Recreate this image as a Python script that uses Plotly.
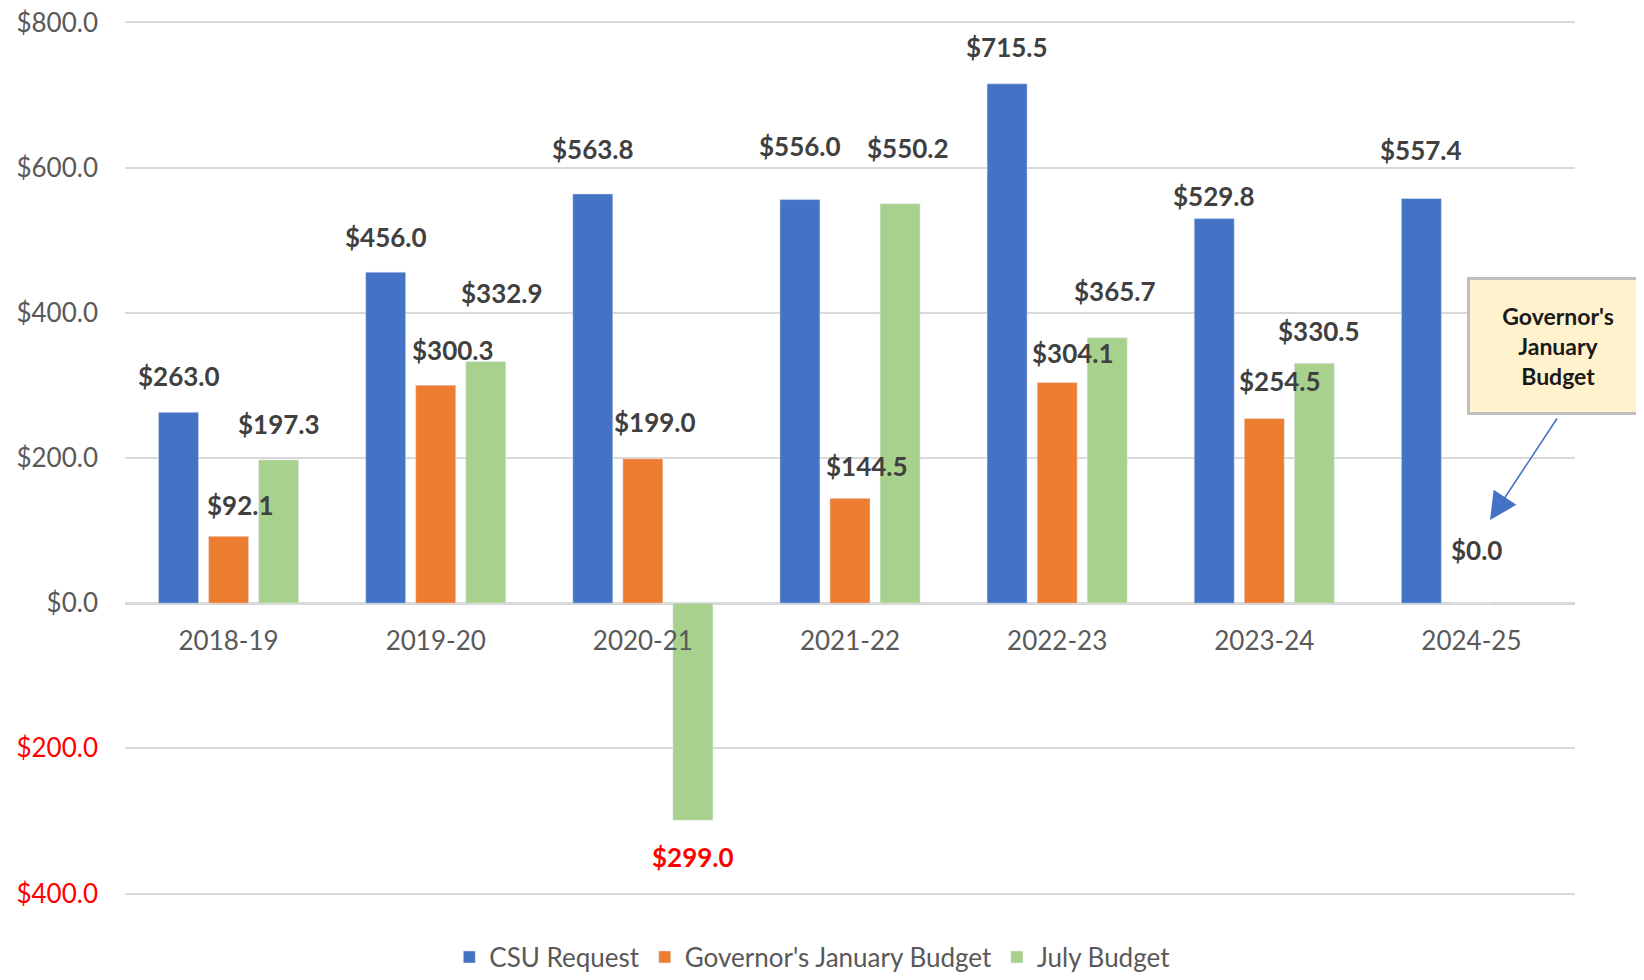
import plotly.graph_objects as go

# CSU budget request vs. Governor's January budget vs. July (enacted) budget, $ millions
YEARS = ["2018-19", "2019-20", "2020-21", "2021-22", "2022-23", "2023-24", "2024-25"]
CSU_REQUEST = [263.0, 456.0, 563.8, 556.0, 715.5, 529.8, 557.4]
GOV_JANUARY = [92.1, 300.3, 199.0, 144.5, 304.1, 254.5, 0.0]
JULY_BUDGET = [197.3, 332.9, -299.0, 550.2, 365.7, 330.5, None]

Y_TICKS = [-400, -200, 0, 200, 400, 600, 800]

COLORS = {
    "blue": "#4472C4",
    "orange": "#ED7D31",
    "green": "#A9D18E",
    "grid": "#D9D9D9",
    "tick": "#595959",
    "label": "#404040",
    "neg": "#FF0000",
}

FONT = "Lato, 'Open Sans', sans-serif"

SERIES = [
    ("CSU Request", CSU_REQUEST, COLORS["blue"]),
    ("Governor's January Budget", GOV_JANUARY, COLORS["orange"]),
    ("July Budget", JULY_BUDGET, COLORS["green"]),
]

# hand-placed data labels in the original: (dx px, distance above/below bar end px)
LABEL_OFFSETS = {
    "CSU Request": [(0, 36), (0, 35), (0, 45), (0, 54), (0, 37), (0, 23), (0, 49)],
    "Governor's January Budget": [(12, 31), (17, 35), (12, 37), (17, 32), (16, 29), (16, 37), (5, 53)],
    "July Budget": [(0, 36), (16, 69), (0, 37), (8, 56), (8, 47), (5, 32), (0, 36)],
}

SLOT = 50  # px per bar slot inside a group (bar + inner gap)
RANGE_PAD = 2  # plotly drops grid lines sitting right on the plot edge


def money(v):
    return f"${abs(v):,.1f}"


fig = go.Figure()
for name, vals, color in SERIES:
    fig.add_trace(
        go.Bar(
            x=YEARS,
            y=vals,
            name=name,
            marker_color=color,
            hoverinfo="skip",
        )
    )

annotations = []
for k, (name, vals, color) in enumerate(SERIES):
    for year, v, (dx, gap) in zip(YEARS, vals, LABEL_OFFSETS[name]):
        if v is None:
            continue
        neg = v < 0
        annotations.append(
            dict(
                x=year,
                y=v,
                xref="x",
                yref="y",
                text=f"<b>{money(v)}</b>",
                showarrow=False,
                xshift=(k - 1) * SLOT + dx,
                yshift=-gap if neg else gap,
                font=dict(size=26, color=COLORS["neg"] if neg else COLORS["label"]),
            )
        )

# call-out box for the missing 2024-25 January figure
annotations.append(
    dict(
        x=0.988,
        y=0.628,
        xref="paper",
        yref="paper",
        xanchor="center",
        yanchor="middle",
        text="<b>Governor's<br>January<br>Budget</b>",
        showarrow=False,
        align="center",
        width=172,
        height=128,
        bgcolor="#FFF2CC",
        bordercolor="#BFBFBF",
        borderwidth=3,
        borderpad=2,
        font=dict(size=23, color="#1a1a1a"),
    )
)
annotations.append(
    dict(
        x=0.9414,
        y=0.429,
        xref="paper",
        yref="paper",
        text="",
        showarrow=True,
        ax=68,
        ay=-103,
        arrowhead=2,
        arrowsize=3.4,
        arrowwidth=1.6,
        arrowcolor=COLORS["blue"],
    )
)

tick_text = [
    f'<span style="color:{COLORS["neg"]}">{money(v)}</span>' if v < 0 else money(v)
    for v in Y_TICKS
]
y_lo, y_hi = Y_TICKS[0] - RANGE_PAD, Y_TICKS[-1] + RANGE_PAD

# page body keeps an 8px margin, so the figure is sized to fit inside it
fig.update_layout(
    width=1628,
    height=964,
    font=dict(family=FONT, size=26, color=COLORS["tick"]),
    paper_bgcolor="white",
    plot_bgcolor="white",
    margin=dict(l=117, r=61, t=13, b=77, autoexpand=False),
    barmode="group",
    bargap=0.275,
    bargroupgap=0.2,
    showlegend=True,
    legend=dict(
        orientation="h",
        x=0.474,
        y=-0.071,
        xanchor="center",
        yanchor="middle",
        font=dict(size=26, color=COLORS["tick"]),
        itemwidth=30,
        traceorder="normal",
    ),
    xaxis=dict(
        anchor="free",
        position=(0 - y_lo) / (y_hi - y_lo),
        showline=False,
        showgrid=False,
        ticks="",
        ticklabelstandoff=20,
        tickfont=dict(size=26, color=COLORS["tick"]),
    ),
    yaxis=dict(
        range=[y_lo, y_hi],
        tickvals=Y_TICKS,
        ticktext=tick_text,
        showgrid=True,
        gridcolor=COLORS["grid"],
        gridwidth=2,
        zeroline=True,
        zerolinecolor=COLORS["grid"],
        zerolinewidth=3,
        ticks="",
        ticklabelstandoff=26,
        ticklabeloverflow="allow",
        tickfont=dict(size=26, color=COLORS["tick"]),
    ),
    annotations=annotations,
)

fig.write_html("out.html")
